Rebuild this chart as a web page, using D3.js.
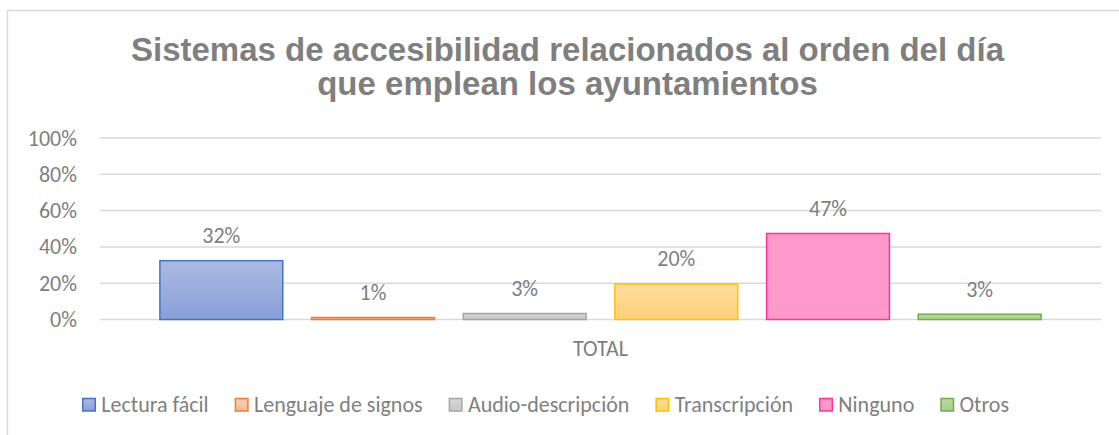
<!DOCTYPE html>
<html>
<head>
<meta charset="utf-8">
<script src="https://cdn.jsdelivr.net/npm/d3@7"></script>
<style>
  body { margin: 0; background: #fff; }
  svg text { font-family: Carlito, Calibri, Lato, sans-serif; fill: #7f7f7f; }
  svg text.title { font-family: "Liberation Sans", Arial, sans-serif; font-weight: bold; }
</style>
</head>
<body>
<div id="chart"></div>
<script>
// data
var categories = ["TOTAL"];
var series = ["Lectura fácil", "Lenguaje de signos", "Audio-descripción", "Transcripción", "Ninguno", "Otros"];
var values = [0.324, 0.011, 0.033, 0.196, 0.474, 0.029];
var yTicks = [0, 0.2, 0.4, 0.6, 0.8, 1];
var titleLines = ["Sistemas de accesibilidad relacionados al orden del día", "que emplean los ayuntamientos"];

var strokeColors = ["#4472c4", "#ed7d31", "#a5a5a5", "#ffc000", "#ff3399", "#70ad47"];
var fillTop = ["#abbae2", "#f9cfb3", "#d6d6d6", "#ffdc9e", "#ff99cc", "#b7d7a3"];
var fillBottom = ["#889fd8", "#f6bc95", "#c8c8c8", "#ffd178", "#ff99cc", "#a8cf8e"];

var width = 1119, height = 435;
var plotLeft = 100, plotRight = 1101, plotTop = 138, plotBottom = 319.5;
var fontSize = 22;
var legendGap = 26;

var svg = d3.select("#chart")
  .append("svg")
  .attr("width", width)
  .attr("height", height);

var defs = svg.append("defs");
series.forEach(function(s, i) {
  var g = defs.append("linearGradient")
    .attr("id", "grad" + i)
    .attr("x1", 0).attr("y1", 0).attr("x2", 0).attr("y2", 1);
  g.append("stop").attr("offset", "0%").attr("stop-color", fillTop[i]);
  g.append("stop").attr("offset", "100%").attr("stop-color", fillBottom[i]);
});

// chart frame
svg.append("rect")
  .attr("x", 7.5)
  .attr("y", 10.5)
  .attr("width", 1130)
  .attr("height", 440)
  .attr("fill", "none")
  .attr("stroke", "#d9d9d9")
  .attr("stroke-width", 1.5);

// title
svg.selectAll(".title")
  .data(titleLines)
  .enter()
  .append("text")
  .attr("class", "title")
  .attr("x", 567.5)
  .attr("y", function(d, i) { return 60.5 + i * 34.5; })
  .attr("text-anchor", "middle")
  .attr("font-size", 33)
  .text(function(d) { return d; });

var y = d3.scaleLinear().domain([0, 1]).range([plotBottom, plotTop]);

var x0 = d3.scaleBand()
  .domain(categories)
  .range([plotLeft, plotRight])
  .paddingInner(0)
  .paddingOuter(0.05);

var x1 = d3.scaleBand()
  .domain(series)
  .range([0, x0.bandwidth()])
  .paddingInner(0.19)
  .paddingOuter(0.095);

// gridlines
svg.append("g")
  .selectAll("line")
  .data(yTicks)
  .enter()
  .append("line")
  .attr("x1", plotLeft)
  .attr("x2", plotRight)
  .attr("y1", function(d) { return y(d); })
  .attr("y2", function(d) { return y(d); })
  .attr("stroke", "#d9d9d9")
  .attr("stroke-width", 1.5);

// y axis labels
var yAxis = d3.axisLeft(y)
  .tickValues(yTicks)
  .tickFormat(d3.format(".0%"))
  .tickSize(0)
  .tickPadding(0);

var yAxisG = svg.append("g")
  .attr("transform", "translate(77,0)")
  .call(yAxis);
yAxisG.select(".domain").remove();
yAxisG.selectAll("text")
  .attr("font-size", fontSize)
  .attr("fill", "#7f7f7f")
  .style("font-family", "Carlito, Calibri, Lato, sans-serif");

// bars
var barsG = svg.append("g");
categories.forEach(function(cat) {
  barsG.selectAll(".bar")
    .data(values)
    .enter()
    .append("rect")
    .attr("class", "bar")
    .attr("x", function(d, i) { return x0(cat) + x1(series[i]); })
    .attr("y", function(d) { return y(d); })
    .attr("width", x1.bandwidth())
    .attr("height", function(d) { return y(0) - y(d); })
    .attr("fill", function(d, i) { return "url(#grad" + i + ")"; })
    .attr("stroke", function(d, i) { return strokeColors[i]; })
    .attr("stroke-width", 1.5);

  barsG.selectAll(".lbl")
    .data(values)
    .enter()
    .append("text")
    .attr("class", "lbl")
    .attr("x", function(d, i) { return x0(cat) + x1(series[i]) + x1.bandwidth() / 2; })
    .attr("y", function(d) { return y(d) - 17.5; })
    .attr("text-anchor", "middle")
    .attr("font-size", fontSize)
    .text(function(d) { return d3.format(".0%")(d); });
});

// category label
svg.selectAll(".cat")
  .data(categories)
  .enter()
  .append("text")
  .attr("class", "cat")
  .attr("x", function(d) { return x0(d) + x0.bandwidth() / 2; })
  .attr("y", 356)
  .attr("text-anchor", "middle")
  .attr("font-size", fontSize)
  .text(function(d) { return d; });

// legend
var legend = svg.append("g");
var items = legend.selectAll(".item")
  .data(series)
  .enter()
  .append("g")
  .attr("class", "item");

items.append("rect")
  .attr("x", 0.75)
  .attr("y", -13)
  .attr("width", 12.5)
  .attr("height", 12.5)
  .attr("fill", function(d, i) { return "url(#grad" + i + ")"; })
  .attr("stroke", function(d, i) { return strokeColors[i]; })
  .attr("stroke-width", 1.5);

items.append("text")
  .attr("x", 19.3)
  .attr("y", 0)
  .attr("font-size", fontSize)
  .text(function(d) { return d; });

var xPos = 0;
var offsets = [];
items.each(function(d, i) {
  var w = d3.select(this).select("text").node().getComputedTextLength();
  offsets.push(xPos);
  xPos += 19.3 + w + legendGap;
});
var totalW = xPos - legendGap;
var legendStart = 545.5 - totalW / 2;
items.attr("transform", function(d, i) {
  return "translate(" + (legendStart + offsets[i]) + ",411.5)";
});
</script>
</body>
</html>
